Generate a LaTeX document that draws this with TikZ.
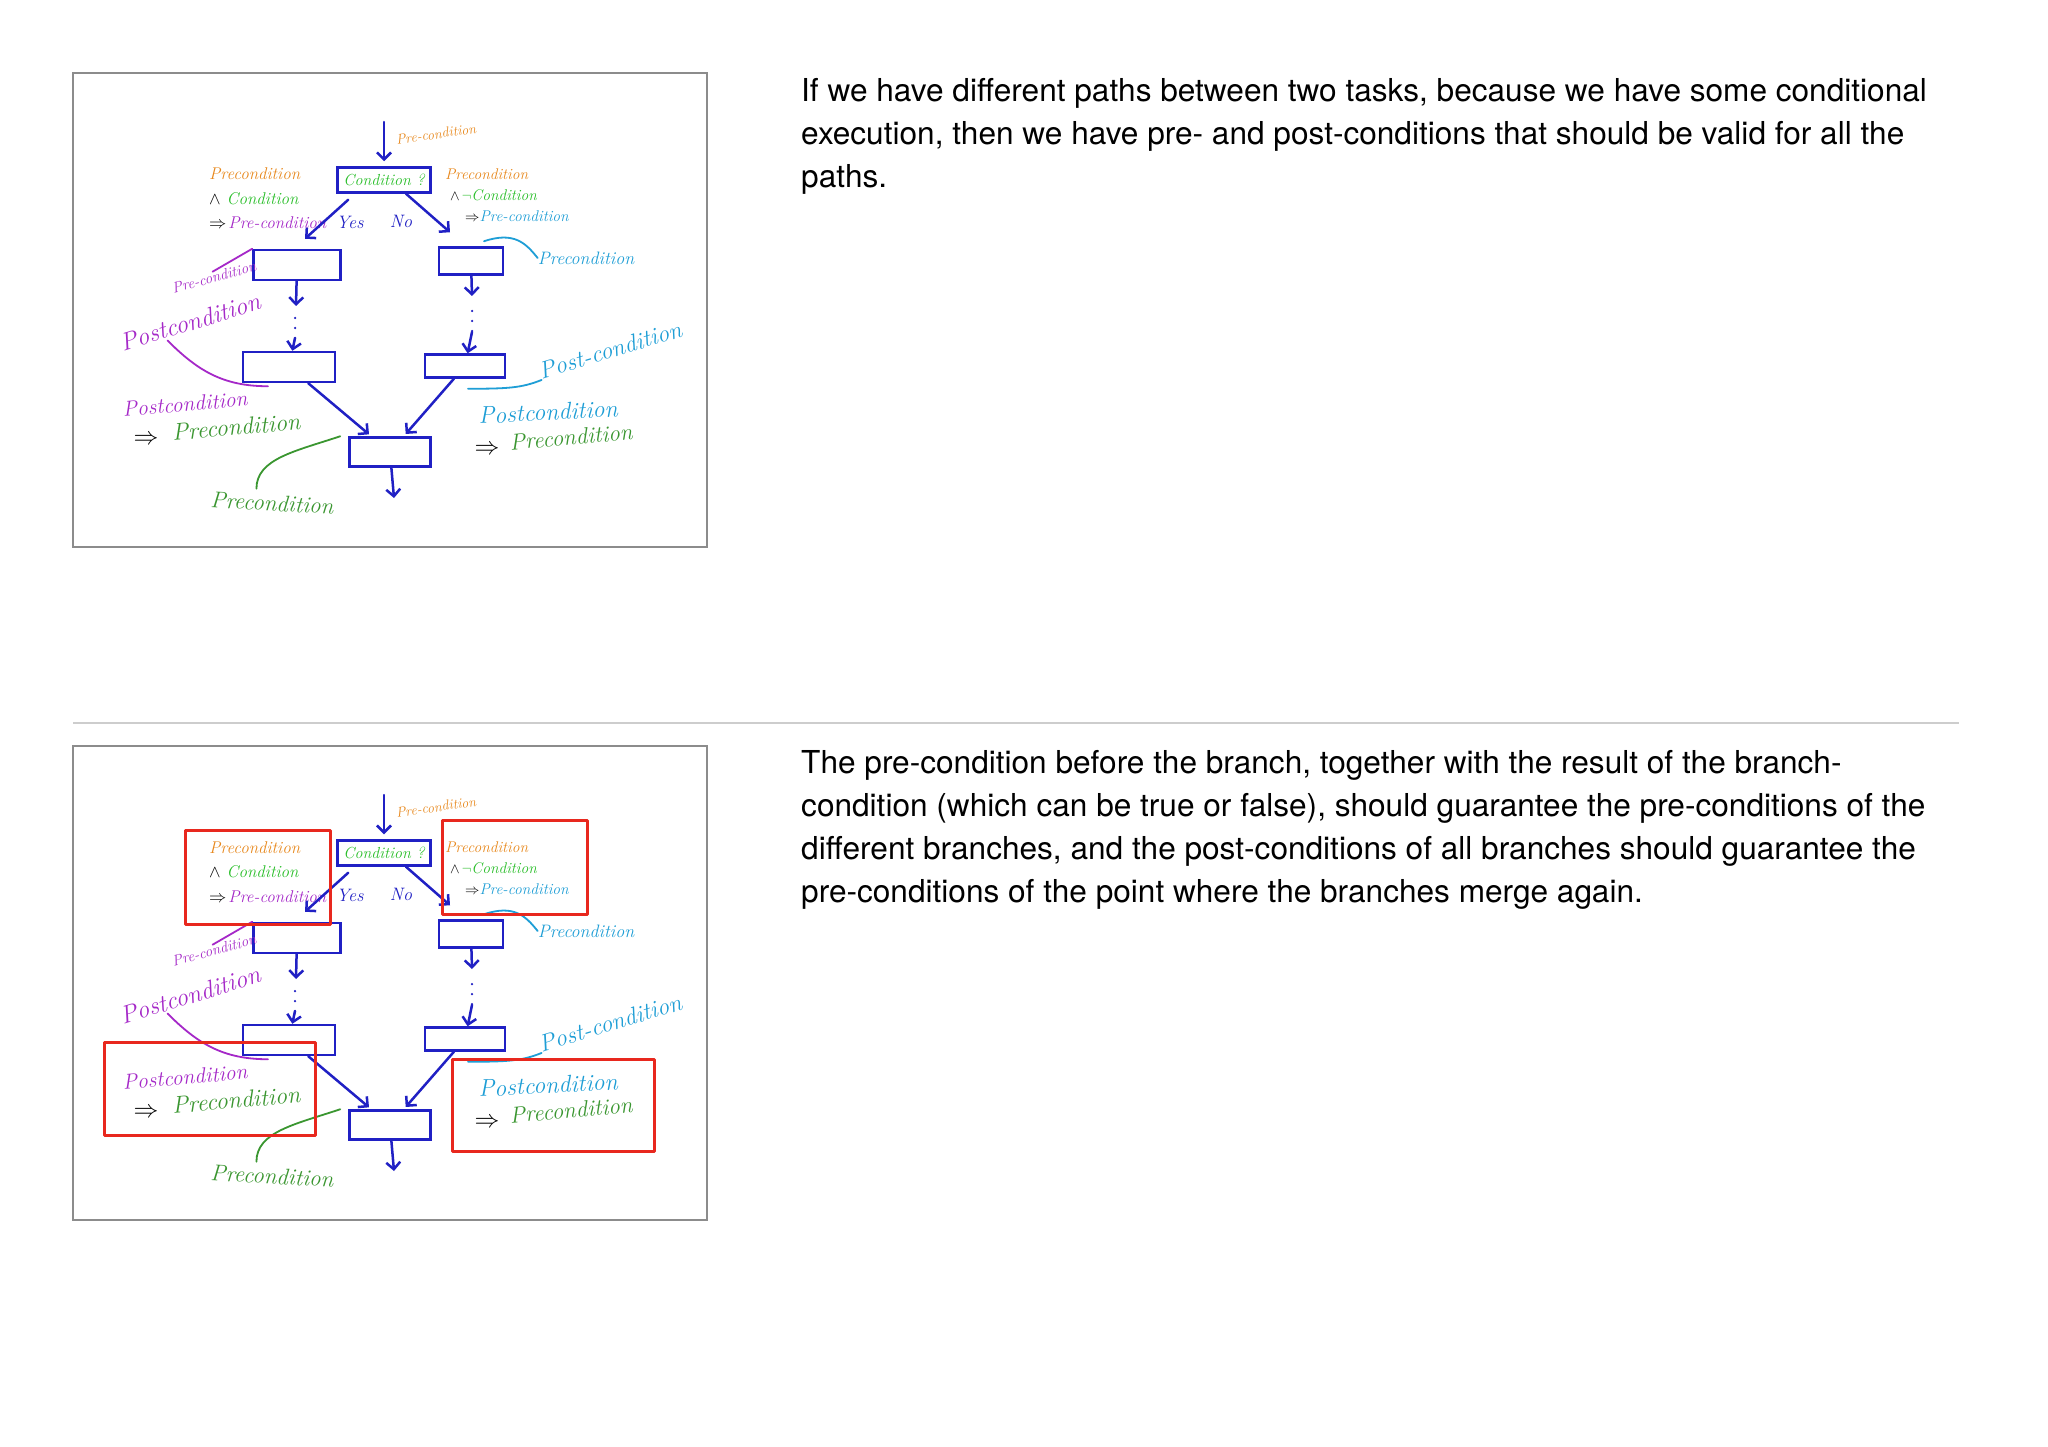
\documentclass[tikz,border=0pt]{standalone}
\usepackage{fontspec}
\newfontfamily\notefont{TeX Gyre Heros}
\usetikzlibrary{arrows.meta}

\definecolor{ink}{RGB}{32,32,196}
\definecolor{inkorange}{RGB}{232,136,28}
\definecolor{inkgreen}{RGB}{40,190,40}
\definecolor{inkpurple}{RGB}{165,40,200}
\definecolor{inkcyan}{RGB}{30,158,214}
\definecolor{inkdark}{RGB}{58,150,48}
\definecolor{inkred}{RGB}{232,40,30}
\definecolor{framegray}{RGB}{140,140,140}
\definecolor{rulegray}{RGB}{205,205,205}

\tikzset{
  hand/.style={font=\fontsize{#1}{#1}\selectfont\itshape, inner sep=0pt},
  taskbox/.style={draw=ink, line width=2.5pt, inner sep=0pt},
  flow/.style={draw=ink, line width=2.5pt, line cap=round, ->},
  dots/.style={draw=ink, line width=2.5pt, line cap=round, dash pattern=on 0pt off 10pt},
  note/.style={draw=#1, line width=1.8pt, line cap=round},
  redbox/.style={draw=inkred, line width=3pt, line join=round},
  slideframe/.style={draw=framegray, line width=1.5pt},
  bodytext/.style={font=\notefont\fontsize{31.6}{43}\selectfont, align=left, inner sep=0pt}
}

% one hand-drawn slide, in page pixels
\newcommand{\slidebody}{%
  \draw[slideframe] (73,73) rectangle (707,547);
  % Nodes
  \node[taskbox, minimum width=93pt, minimum height=25pt, hand=16, text=inkgreen] (cond) at (384,180) {Condition ?};
  \node[taskbox, minimum width=87pt, minimum height=30pt] (left1) at (297,265) {};
  \node[taskbox, minimum width=92pt, minimum height=30pt] (left2) at (289,367) {};
  \node[taskbox, minimum width=64pt, minimum height=27pt] (right1) at (471,261) {};
  \node[taskbox, minimum width=80pt, minimum height=23pt] (right2) at (465,366) {};
  \node[taskbox, minimum width=81pt, minimum height=29pt] (merge) at (390,452) {};
  \coordinate (in) at (384,122);
  \coordinate (out) at (394,498);
  \coordinate (ldots1) at (296,306);
  \coordinate (ldots2) at (295,318);
  \coordinate (ldots3) at (295,338);
  \coordinate (rdots1) at (472,296);
  \coordinate (rdots2) at (472,311);
  \coordinate (rdots3) at (472,332);
  % Labels
  \node[hand=14, text=inkorange, rotate=8] (prein) at (436,134) {Pre-condition};
  \node[hand=18, text=ink] (yes) at (350,222) {Yes};
  \node[hand=18, text=ink] (no) at (401,221) {No};
  \node[inner sep=0pt, font=\fontsize{17}{24.5}\selectfont\itshape, align=left, anchor=north west] (yescase) at (209,168)
    {\textcolor{inkorange}{Precondition}\\ $\wedge$\hspace{6pt}\textcolor{inkgreen}{Condition}\\ $\Rightarrow$\hspace{2pt}\textcolor{inkpurple}{Pre-condition}};
  \node[inner sep=0pt, font=\fontsize{15.5}{21}\selectfont\itshape, align=left, anchor=north west] (nocase) at (445,169)
    {\textcolor{inkorange}{Precondition}\\ \hspace{5pt}$\wedge$\hspace{2pt}\textcolor{inkgreen}{$\neg$Condition}\\ \hspace{20pt}$\Rightarrow$\textcolor{inkcyan}{Pre-condition}};
  \node[hand=15, text=inkpurple, rotate=15] (prea) at (214,277) {Pre-condition};
  \node[hand=25, text=inkpurple, rotate=17] (posta) at (190,322) {Postcondition};
  \node[hand=21.5, text=inkpurple, rotate=5] (postc) at (185,404) {Postcondition};
  \node[hand=26] (implya) at (146,440) {$\Rightarrow$};
  \node[hand=24, text=inkdark, rotate=5] (pred) at (236,427) {Precondition};
  \node[hand=23, text=inkdark, rotate=-3] (preb) at (272,503) {Precondition};
  \node[hand=18, text=inkcyan] (prec) at (586,258) {Precondition};
  \node[hand=24, text=inkcyan, rotate=17] (postb) at (610,350) {Post-condition};
  \node[hand=24, text=inkcyan, rotate=3] (postd) at (548,412) {Postcondition};
  \node[hand=26] (implyb) at (487,450) {$\Rightarrow$};
  \node[hand=23, text=inkdark, rotate=5] (pree) at (571,437) {Precondition};
  % Arrows
  \draw[flow, shorten >=5pt] (in) -- (cond);
  \draw[flow] ([xshift=12pt,yshift=-6pt]cond.south west) -- ([xshift=8pt,yshift=10pt]left1.north);
  \draw[flow] ([xshift=22pt]cond.south) -- ([xshift=-21pt,yshift=14pt]right1.north);
  \draw[flow] (left1) -- (ldots1);
  \draw[dots] (ldots2) -- (ldots3);
  \draw[flow] (ldots3) -- (left2);
  \draw[flow] (right1) -- (rdots1);
  \draw[dots] (rdots2) -- (rdots3);
  \draw[flow] (rdots3) -- (right2);
  \draw[flow, shorten >=3pt] (left2) -- (merge);
  \draw[flow, shorten >=3pt] (right2) -- (merge);
  \draw[flow] (merge) -- (out);
  % Annotation strokes
  \draw[note=inkpurple] (left1.north west) -- (prea.north);
  \draw[note=inkpurple] ([xshift=-25pt,yshift=-10pt]posta.south) .. controls +(30,30) and +(-45,0) .. ([xshift=-21pt,yshift=-3pt]left2.south);
  \draw[note=inkdark] ([xshift=-8pt]merge.north west) .. controls +(-45,15) and +(0,-30) .. ([xshift=-16pt,yshift=6pt]preb.north);
  \draw[note=inkcyan] ([xshift=13pt,yshift=5pt]right1.north) .. controls +(30,-10) and +(-12,-15) .. (prec.west);
  \draw[note=inkcyan] ([xshift=3pt,yshift=-10pt]right2.south) .. controls +(40,0) and +(-20,8) .. (postb.south west);
}

\begin{document}
\begin{tikzpicture}[x=1pt, y=-1pt, >={Straight Barb[length=7pt,width=14pt]}]
  \useasboundingbox (0,0) rectangle (2048,1447);
  \fill[white] (0,0) rectangle (2048,1447);

  % first slide
  \begin{scope}[name prefix=top-]
    \slidebody
  \end{scope}
  \node[bodytext, anchor=base west] (note1) at (801,188)
    {If we have different paths between two tasks, because we have some conditional\\
     execution, then we have pre- and post-conditions that should be valid for all the\\
     paths.};

  \draw[rulegray, line width=1.2pt] (73,723) -- (1959,723);

  % second slide
  \begin{scope}[shift={(0,673)}, name prefix=bottom-]
    \slidebody
    \draw[redbox] (185,157) rectangle (330,251);
    \draw[redbox] (442,147) rectangle (587,241);
    \draw[redbox] (104,369) rectangle (315,462);
    \draw[redbox] (452,386) rectangle (654,478);
  \end{scope}
  \node[bodytext, anchor=base west] (note2) at (801,902)
    {The pre-condition before the branch, together with the result of the branch-\\
     condition (which can be true or false), should guarantee the pre-conditions of the\\
     different branches, and the post-conditions of all branches should guarantee the\\
     pre-conditions of the point where the branches merge again.};
\end{tikzpicture}
\end{document}
